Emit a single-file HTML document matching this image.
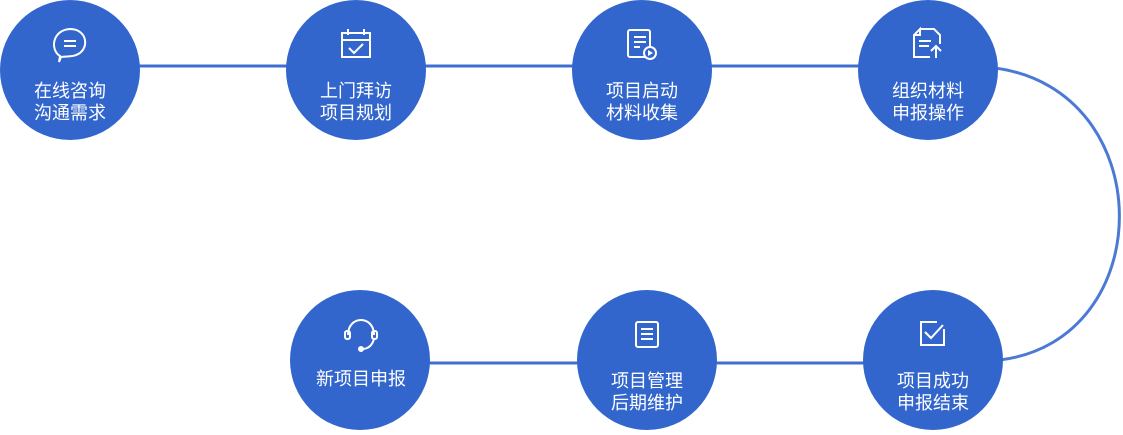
<!DOCTYPE html>
<html><head><meta charset="utf-8"><style>
body{margin:0;background:#fff;}
svg{display:block}
text{font-family:"Liberation Sans","Noto Sans CJK SC",sans-serif;font-size:18px;fill:#fff;text-anchor:middle}
</style></head><body>
<svg width="1123" height="435" viewBox="0 0 1123 435" xmlns="http://www.w3.org/2000/svg">
<g stroke="#3d6fd0" stroke-width="3" fill="none">
<line x1="70" y1="66" x2="928" y2="66"/>
<line x1="360" y1="363" x2="933" y2="363"/>
<path d="M995,68 C1160,90 1160,340 1000,360" stroke="#4a7ad6"/>
</g>
<g fill="#3366cc">
<circle cx="70" cy="70" r="70"/>
<circle cx="356" cy="70" r="70"/>
<circle cx="642" cy="70" r="70"/>
<circle cx="928" cy="70" r="70"/>
<circle cx="360" cy="360" r="70"/>
<circle cx="647" cy="360" r="70"/>
<circle cx="933" cy="360" r="70"/>
</g>
<g stroke="#fff" stroke-width="2" fill="none">
<!-- chat -->
<path d="M60,56 C50,50 52,30 70,29 C88,29 90,50 76,55 C72,57 66,56 61,57 L59,62 Z"/>
<line x1="64" y1="41" x2="76" y2="41"/><line x1="64" y1="46" x2="76" y2="46"/>
<!-- calendar -->
<rect x="342" y="33" width="28" height="24"/><line x1="342" y1="40" x2="370" y2="40"/>
<line x1="348" y1="29" x2="348" y2="35"/><line x1="364" y1="29" x2="364" y2="35"/>
<path d="M349,48 L354,53 L363,44"/>
<!-- list play -->
<rect x="628" y="30" width="22" height="27" rx="2"/>
<line x1="634" y1="37" x2="646" y2="37"/><line x1="634" y1="42" x2="646" y2="42"/><line x1="634" y1="47" x2="640" y2="47"/>
<circle cx="650" cy="53" r="6" fill="#3366cc"/><path d="M648,50 L653,53 L648,56 Z" fill="#fff" stroke="none"/>
<!-- doc upload -->
<path d="M920,29 L934,29 L940,35 L940,44 M930,57 L914,57 L914,35 L920,29 L920,35 L914,35"/>
<line x1="919" y1="41" x2="931" y2="41"/><line x1="919" y1="46" x2="929" y2="46"/>
<path d="M936,58 L936,47 M931,51 L936,46 L941,51"/>
<!-- headset -->
<path d="M348,335 C348,315 374,315 374,335"/>
<rect x="345" y="331" width="5" height="8" rx="2"/><rect x="372" y="331" width="5" height="8" rx="2"/>
<path d="M374,339 C372,346 368,349 362,349"/>
<circle cx="361" cy="349" r="2" fill="#fff"/>
<!-- notebook -->
<rect x="636" y="322" width="22" height="25" rx="2"/>
<line x1="641" y1="329" x2="653" y2="329"/><line x1="641" y1="334" x2="653" y2="334"/><line x1="641" y1="339" x2="653" y2="339"/>
<!-- check box -->
<path d="M944,329 L944,345 L921,345 L921,322 L937,322"/>
<path d="M925,332 L931,338 L943,325"/>
</g>
<text x="70" y="97">在线咨询</text><text x="70" y="119">沟通需求</text>
<text x="356" y="97">上门拜访</text><text x="356" y="119">项目规划</text>
<text x="642" y="97">项目启动</text><text x="642" y="119">材料收集</text>
<text x="928" y="97">组织材料</text><text x="928" y="119">申报操作</text>
<text x="361" y="385">新项目申报</text>
<text x="647" y="387">项目管理</text><text x="647" y="409">后期维护</text>
<text x="933" y="387">项目成功</text><text x="933" y="409">申报结束</text>
</svg>
</body></html>
